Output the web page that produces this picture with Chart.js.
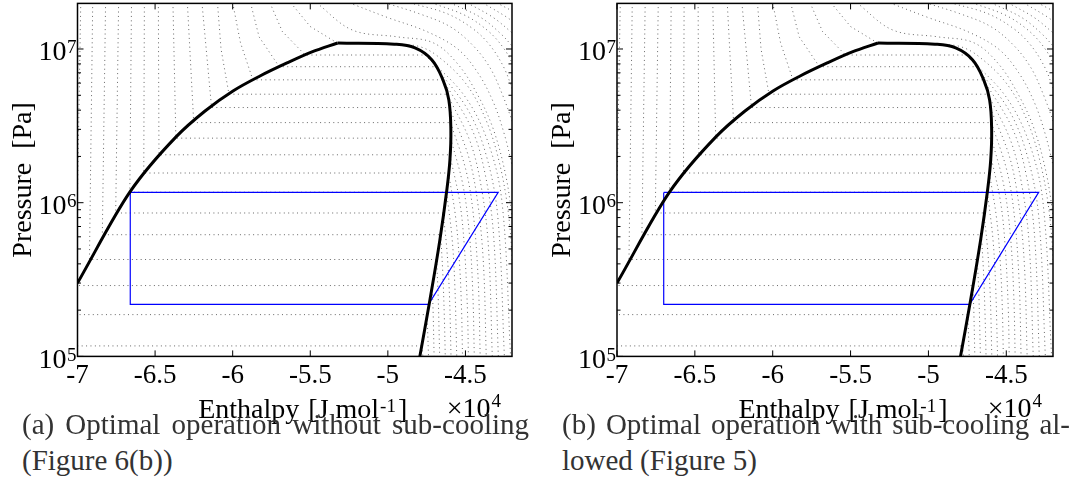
<!DOCTYPE html>
<html>
<head>
<meta charset="utf-8">
<script src="https://cdn.jsdelivr.net/npm/chart.js@4.4.1/dist/chart.umd.min.js"></script>
<style>
  html, body { margin: 0; padding: 0; background: #fff; }
  #page { position: relative; width: 1078px; height: 486px; overflow: hidden; }
  canvas { position: absolute; top: 0; }
  #chartA { left: 0; }
  #chartB { left: 540px; }
  .cap { position: absolute; font-family: "Liberation Serif", "Times New Roman", serif; font-size: 29px; line-height: 36px; color: #333; white-space: nowrap; }
  .cap.just { text-align: justify; text-align-last: justify; white-space: normal; }
</style>
</head>
<body>
<div id="page">
  <canvas id="chartA" width="540" height="430"></canvas>
  <canvas id="chartB" width="538" height="430"></canvas>
  <div class="cap just" style="left:22px; top:406px; width:507px;">(a) Optimal operation without sub-cooling</div>
  <div class="cap" style="left:22px; top:442px;">(Figure 6(b))</div>
  <div class="cap just" style="left:562px; top:406px; width:508px;">(b) Optimal operation with sub-cooling al-</div>
  <div class="cap" style="left:562px; top:442px;">lowed (Figure 5)</div>
</div>
<script>
// axes
const xTicks = [-70000, -65000, -60000, -55000, -50000, -45000];
const xTickLabels = ["-7", "-6.5", "-6", "-5.5", "-5", "-4.5"];
const yTicks = [1e5, 1e6, 1e7];
const yTickExps = ["5", "6", "7"];
const yTitle = "Pressure  [Pa]";
const xTitleParts = ["Enthalpy", "[J mol", "-1", "]"];

// saturation dome (enthalpy J/mol, pressure Pa): liquid side up to the top, then top + vapour side
const domeLiqH = [-70000, -66620, -63650, -61780, -59980, -58240, -56500, -54890, -53240];
const domeLiqP = [3.0e5, 1.175e6, 2.68e6, 3.95e6, 5.33e6, 6.67e6, 8.11e6, 9.57e6, 1.094e7];
const domeVapH = [-53240, -49580, -48250, -47160, -46450, -46070, -45940, -46000, -46200, -46650, -47290, -47940];
const domeVapP = [1.094e7, 1.074e7, 1.016e7, 8.49e6, 6.29e6, 4.66e6, 2.97e6, 1.90e6, 1.21e6, 5.71e5, 2.33e5, 1.0e5];

// refrigeration cycles
const cycleAH = [-66600, -42890, -47380, -66600, -66600];
const cycleAP = [1.167e6, 1.167e6, 2.18e5, 2.18e5, 1.167e6];
const cycleBH = [-67000, -42920, -47350, -67000, -67000];
const cycleBP = [1.167e6, 1.167e6, 2.18e5, 2.18e5, 1.167e6];

// isotherms, -30 .. 130 C: liquid + two-phase part
const isoTemps = [-30, -20, -10, 0, 10, 20, 30, 40, 50, 60, 70, 80, 90, 100, 110, 120, 130];
const isoLiqH = [
  [-72000, -47820], [-71000, -47470], [-69790, -70100, -47140], [-69020, -69230, -46860],
  [-68190, -68400, -46600], [-67350, -67540, -46440], [-66520, -66630, -46220], [-65690, -65730, -46090],
  [-64790, -64750, -46010], [-63850, -63660, -45960], [-62920, -62510, -45960], [-61980, -61360, -46040],
  [-60980, -60750, -60240, -46180], [-60000, -59500, -58700, -46450], [-58850, -58300, -57000, -46950],
  [-57600, -56800, -55330, -47600], [-56260, -55000, -53300, -49520]
];
const isoLiqP = [
  [1.17e5, 1.17e5], [1.87e5, 1.87e5], [2e7, 2.89e5, 2.89e5], [2e7, 4.27e5, 4.27e5],
  [2e7, 6.19e5, 6.19e5], [2e7, 8.57e5, 8.57e5], [2e7, 1.17e6, 1.17e6], [2e7, 1.56e6, 1.56e6],
  [2e7, 2.05e6, 2.05e6], [2e7, 2.63e6, 2.63e6], [2e7, 3.32e6, 3.32e6], [2e7, 4.16e6, 4.16e6],
  [2e7, 1e7, 5.08e6, 5.08e6], [2e7, 1.1e7, 6.3e6, 6.3e6], [2e7, 1.2e7, 7.67e6, 7.67e6],
  [2e7, 1.3e7, 9.14e6, 9.14e6], [2e7, 1.4e7, 1.10e7, 1.074e7]
];
// vapour part of the same isotherms
const isoVapH = [
  [-47820, -47740], [-47470, -47380], [-47140, -47080, -47020], [-46860, -46760, -46660],
  [-46600, -46460, -46360, -46300], [-46440, -46200, -46030, -45930], [-46220, -45870, -45690, -45560],
  [-46090, -45630, -45380, -45250, -45190], [-46010, -45360, -45060, -44870, -44810],
  [-45960, -45160, -44730, -44520, -44430], [-45960, -44950, -44470, -44170, -44050],
  [-46040, -44800, -44210, -43840, -43660], [-46180, -44700, -43940, -43510, -43270],
  [-46450, -44580, -43710, -43180, -42880], [-46950, -44830, -43640, -42910, -42490],
  [-47600, -45090, -43560, -42640, -42090],
  [-49520, -48000, -46800, -45000, -43700, -42800, -42200, -41900]
];
const isoVapP = [
  [1.17e5, 1e5], [1.87e5, 1e5], [2.89e5, 1.9e5, 1e5], [4.27e5, 2.5e5, 1e5],
  [6.19e5, 3.5e5, 1.8e5, 1e5], [8.57e5, 5e5, 2.5e5, 1e5], [1.17e6, 6e5, 3e5, 1e5],
  [1.56e6, 8e5, 4e5, 2e5, 1e5], [2.05e6, 1e6, 5e5, 2e5, 1e5],
  [2.63e6, 1.3e6, 6e5, 2.5e5, 1e5], [3.32e6, 1.6e6, 8e5, 3e5, 1e5],
  [4.16e6, 2e6, 1e6, 4e5, 1e5], [5.08e6, 2.5e6, 1.2e6, 5e5, 1e5],
  [6.3e6, 3e6, 1.5e6, 6e5, 1e5], [7.67e6, 4e6, 2e6, 8e5, 1e5],
  [9.14e6, 5e6, 2.5e6, 1e6, 1e5],
  [1.074e7, 1.04e7, 9e6, 6e6, 3.5e6, 1.8e6, 8e5, 3e5]
];

// supercritical isotherms, 140 .. 220 C
const superTemps = [140, 150, 160, 170, 180, 190, 200, 210, 220];
const superH = [
  [-54600, -52300, -49400, -47100, -45500, -44200, -43200, -42400, -41900],
  [-52500, -50000, -47500, -45500, -44200, -43200, -42500, -41900],
  [-50200, -48000, -46000, -44500, -43400, -42600, -41900],
  [-48600, -46200, -44500, -43400, -42500, -41900],
  [-47200, -45000, -43500, -42500, -41900],
  [-46000, -44000, -42700, -41900],
  [-44900, -43200, -41900],
  [-43900, -42500, -41900],
  [-43000, -41900]
];
const superP = [
  [2e7, 1.33e7, 1.2e7, 1.1e7, 8e6, 5e6, 3e6, 1.5e6, 7e5],
  [2e7, 1.6e7, 1.3e7, 1.0e7, 7e6, 4.5e6, 2.8e6, 1.6e6],
  [2e7, 1.7e7, 1.4e7, 1.05e7, 7.5e6, 5e6, 3.2e6],
  [2e7, 1.7e7, 1.35e7, 1.05e7, 7.5e6, 5.2e6],
  [2e7, 1.65e7, 1.3e7, 1.0e7, 7.8e6],
  [2e7, 1.6e7, 1.25e7, 1.02e7],
  [2e7, 1.6e7, 1.25e7],
  [2e7, 1.65e7, 1.5e7],
  [2e7, 1.75e7]
];

const serif = '"Liberation Serif", "Times New Roman", serif';

function toPoints(hs, ps) {
  return hs.map((h, i) => ({ x: h, y: ps[i] }));
}

// frame, inward ticks and all axis text
const framePlugin = {
  id: "frame",
  afterDraw(chart) {
    const { ctx, chartArea: a } = chart;
    const x = chart.scales.x, y = chart.scales.y;
    ctx.save();
    ctx.strokeStyle = "#000";
    ctx.lineWidth = 1;
    ctx.beginPath();
    xTicks.forEach(v => {
      const px = x.getPixelForValue(v);
      ctx.moveTo(px, a.bottom); ctx.lineTo(px, a.bottom - 6);
      ctx.moveTo(px, a.top); ctx.lineTo(px, a.top + 6);
    });
    for (let d = 1e5; d < y.max; d *= 10) {
      for (let m = 1; m < 10; m++) {
        if (m * d > y.max) break;
        const py = y.getPixelForValue(m * d);
        const len = m === 1 ? 6 : 3.5;
        ctx.moveTo(a.left, py); ctx.lineTo(a.left + len, py);
        ctx.moveTo(a.right, py); ctx.lineTo(a.right - len, py);
      }
    }
    ctx.stroke();
    ctx.lineWidth = 1.5;
    ctx.strokeRect(a.left, a.top, a.right - a.left, a.bottom - a.top);

    ctx.fillStyle = "#000";
    ctx.textBaseline = "alphabetic";
    ctx.textAlign = "center";
    ctx.font = `27px ${serif}`;
    xTicks.forEach((v, i) => ctx.fillText(xTickLabels[i], x.getPixelForValue(v), a.bottom + 27));

    yTicks.forEach((v, i) => {
      const py = y.getPixelForValue(v);
      ctx.textAlign = "right";
      ctx.font = `19px ${serif}`;
      ctx.fillText(yTickExps[i], a.left - 1, py + 4.5);
      const w = ctx.measureText(yTickExps[i]).width;
      ctx.font = `28px ${serif}`;
      ctx.fillText("10", a.left - 1.5 - w, py + 11.5);
    });

    // y title
    ctx.save();
    ctx.translate(a.left - 47, (a.top + a.bottom) / 2);
    ctx.rotate(-Math.PI / 2);
    ctx.textAlign = "center";
    ctx.font = `28px ${serif}`;
    ctx.fillText(yTitle, 0, 0);
    ctx.restore();

    // x title with superscript
    const base = a.bottom + 62;
    ctx.textAlign = "left";
    ctx.font = `28px ${serif}`;
    const w1 = ctx.measureText(xTitleParts[0]).width;
    const w2 = ctx.measureText(xTitleParts[1]).width;
    const w4 = ctx.measureText(xTitleParts[3]).width;
    ctx.font = `19px ${serif}`;
    const w3 = ctx.measureText(xTitleParts[2]).width;
    const gap = 9;
    const total = w1 + gap + w2 + 1 + w3 + 2 + w4;
    let cx = (a.left + a.right) / 2 + 8 - total / 2;
    ctx.font = `28px ${serif}`;
    ctx.fillText(xTitleParts[0], cx, base);
    cx += w1 + gap;
    ctx.fillText(xTitleParts[1], cx, base);
    cx += w2 + 1;
    ctx.font = `19px ${serif}`;
    ctx.fillText(xTitleParts[2], cx, base - 6);
    cx += w3 + 2;
    ctx.font = `28px ${serif}`;
    ctx.fillText(xTitleParts[3], cx, base);

    // x10^4 multiplier
    ctx.textAlign = "right";
    ctx.font = `19px ${serif}`;
    ctx.fillText("4", a.right - 11, base - 11);
    const w5 = ctx.measureText("4").width;
    ctx.font = `28px ${serif}`;
    ctx.fillText("\u00d710", a.right - 11 - w5 - 1, base - 1.5);
    ctx.restore();
  }
};

function buildChart(id, area, cycleH, cycleP) {
  const canvas = document.getElementById(id);
  const W = canvas.width, H = canvas.height;
  const dotted = { borderColor: "rgba(0,0,0,0.6)", borderWidth: 1, borderDash: [1, 3.4], pointRadius: 0, showLine: true, fill: false, order: 2 };
  const thick = { borderColor: "#000", borderWidth: 3, pointRadius: 0, showLine: true, order: 0 };

  const datasets = [
    { ...thick, data: toPoints(domeLiqH, domeLiqP), cubicInterpolationMode: "monotone" },
    { ...thick, data: toPoints(domeVapH, domeVapP), tension: 0.4 },
    { data: toPoints(cycleH, cycleP), borderColor: "#0000ff", borderWidth: 1.2, pointRadius: 0, showLine: true, tension: 0, order: 1 }
  ];
  isoLiqH.forEach((h, i) => datasets.push({ ...dotted, data: toPoints(h, isoLiqP[i]), tension: 0 }));
  isoVapH.forEach((h, i) => datasets.push({ ...dotted, data: toPoints(h, isoVapP[i]), tension: 0.35 }));
  superH.forEach((h, i) => datasets.push({ ...dotted, data: toPoints(h, superP[i]), tension: 0.35 }));

  return new Chart(canvas, {
    type: "scatter",
    data: { datasets },
    options: {
      responsive: false,
      animation: false,
      events: [],
      layout: { padding: { left: 0, top: area.top, right: W - area.right, bottom: 0 } },
      plugins: { legend: { display: false }, tooltip: { enabled: false } },
      scales: {
        x: {
          type: "linear", min: -70000, max: -42000,
          grid: { display: false }, border: { display: false }, ticks: { display: false },
          afterFit: s => { s.height = H - area.bottom; }
        },
        y: {
          type: "logarithmic", min: 1e5, max: 1.98e7,
          grid: { display: false }, border: { display: false }, ticks: { display: false },
          afterFit: s => { s.width = area.left; }
        }
      }
    },
    plugins: [framePlugin]
  });
}

document.addEventListener("DOMContentLoaded", () => {
  buildChart("chartA", { left: 77.5, right: 512, top: 3.4, bottom: 356.4 }, cycleAH, cycleAP);
  buildChart("chartB", { left: 77, right: 513, top: 3.4, bottom: 356.4 }, cycleBH, cycleBP);
});
</script>
</body>
</html>
